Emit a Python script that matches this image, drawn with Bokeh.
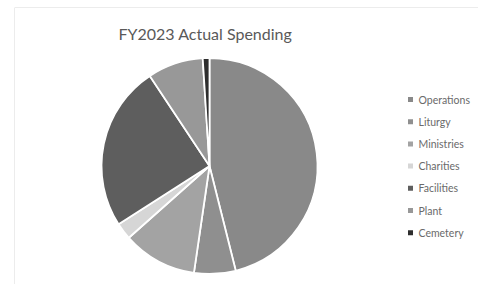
import math
from bokeh.plotting import figure
from bokeh.models import ColumnDataSource, Range1d, Span
from bokeh.core.properties import value
from bokeh.embed import file_html
from bokeh.resources import INLINE

title = "FY2023 Actual Spending"
categories = ["Operations", "Liturgy", "Ministries", "Charities", "Facilities", "Plant", "Cemetery"]
shares = [46.0, 6.2, 11.1, 2.5, 24.7, 8.3, 1.0]
colors = ["#898989", "#8f8f8f", "#a3a3a3", "#d6d6d6", "#5e5e5e", "#989898", "#2e2e2e"]

W, H = 478, 284
LB, TB = 14, 7
FW, FH = W - LB, H - TB
p = figure(width=W, height=H, output_backend="svg", toolbar_location=None,
           x_range=Range1d(0, FW), y_range=Range1d(0, FH),
           min_border_left=LB, min_border_right=0, min_border_top=TB, min_border_bottom=0)
p.axis.visible = False
p.grid.visible = False
p.outline_line_color = None
p.background_fill_color = "white"
p.border_fill_color = "white"
for loc, dim in [(0, "height"), (FW, "height"), (FH, "width")]:
    p.add_layout(Span(location=loc, dimension=dim, line_color="#d9d9d9", line_width=1))

total = sum(shares)
starts, ends = [], []
c = 0.0
for s in shares:
    c0 = c
    c += s / total
    starts.append(math.pi / 2 - 2 * math.pi * c)
    ends.append(math.pi / 2 - 2 * math.pi * c0)

cx, cy, r = 195, 118.5, 108
src = ColumnDataSource(dict(start=starts, end=ends, color=colors, cat=categories))
p.wedge(x=cx, y=cy, radius=r, radius_units="screen", start_angle="start", end_angle="end",
        fill_color="color", line_color="white", line_width=1.8, source=src)

p.text(x=[104], y=[251], text=[title], text_font=value("Lato"), text_font_size="16px",
       text_color="#595959", text_baseline="middle", text_align="left")

n = len(categories)
ly = [284 - (99 + 22.2 * i) for i in range(n)]
lx_m = [410 - LB] * n
lx_t = [418 - LB] * n
p.scatter(x=lx_m, y=ly, marker="square", size=5, fill_color=colors, line_color=None)
p.text(x=lx_t, y=ly, text=categories, text_font=value("Lato"), text_font_size="10.5px",
       text_color="#6a6a6a", text_baseline="middle", text_align="left")

open("out.html", "w").write(file_html(p, INLINE))
